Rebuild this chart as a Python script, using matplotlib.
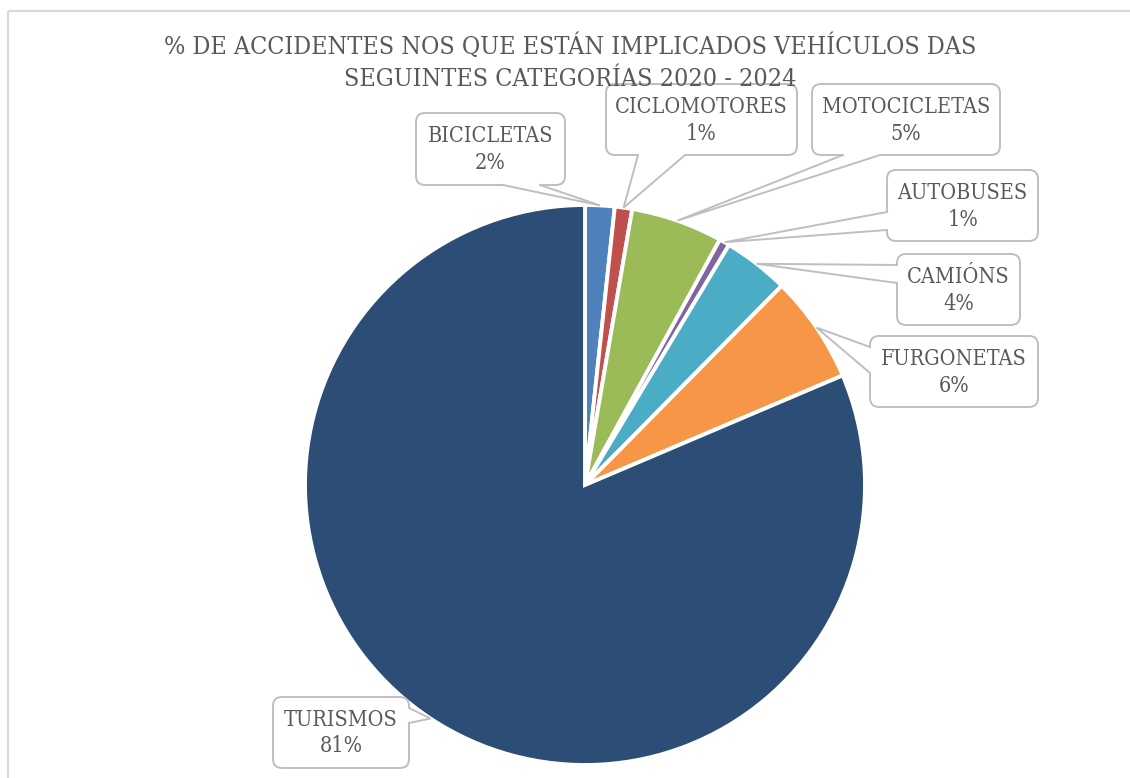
import matplotlib
matplotlib.use("Agg")
import matplotlib.pyplot as plt
import numpy as np
from matplotlib.patches import FancyBboxPatch, Polygon

# ---------------- data ----------------
categories = ["BICICLETAS", "CICLOMOTORES", "MOTOCICLETAS", "AUTOBUSES",
              "CAMIÓNS", "FURGONETAS", "TURISMOS"]
values = [1.7, 1.0, 5.3, 0.6, 3.8, 6.2, 81.4]
colors = ["#4F81BD", "#C0504D", "#9BBB59", "#8064A2", "#4BACC6", "#F79646", "#2C4D75"]
title_lines = ["% DE ACCIDENTES NOS QUE ESTÁN IMPLICADOS VEHÍCULOS DAS",
               "SEGUINTES CATEGORÍAS 2020 - 2024"]

# ---------------- layout (pixels, y down) ----------------
W, H = 1130, 778
label_layout = {
    "BICICLETAS":   dict(box=(416, 113, 149, 72), side="bottom", base=(503, 540)),
    "CICLOMOTORES": dict(box=(606, 84, 191, 71),  side="bottom", base=(638, 685)),
    "MOTOCICLETAS": dict(box=(812, 84, 188, 71),  side="bottom", base=(843, 880)),
    "AUTOBUSES":    dict(box=(887, 170, 151, 71), side="left",   base=(212, 230)),
    "CAMIÓNS":      dict(box=(897, 254, 123, 71), side="left",   base=(265, 283)),
    "FURGONETAS":   dict(box=(870, 336, 168, 71), side="left",   base=(347, 373)),
    "TURISMOS":     dict(box=(273, 697, 136, 71), side="right",  base=(708, 723)),
}
pie_center = (585, 485)
pie_radius = 280

font = dict(family="DejaVu Serif", stretch="condensed")
txt_color = "#595959"
line_color = "#BFBFBF"

fig = plt.figure(figsize=(W / 100, H / 100), dpi=100)
fig.patch.set_facecolor("white")

cx, cy = pie_center
ax = fig.add_axes([(cx - pie_radius) / W, (H - cy - pie_radius) / H,
                   2 * pie_radius / W, 2 * pie_radius / H])
wedges, _ = ax.pie(values, colors=colors, startangle=90, counterclock=False,
                   radius=1.0,
                   wedgeprops=dict(edgecolor="white", linewidth=2.8, joinstyle="miter"))
ax.set_xlim(-1, 1)
ax.set_ylim(-1, 1)
ax.set_aspect("equal", adjustable="box")
ax.axis("off")

ov = fig.add_axes([0, 0, 1, 1], zorder=5)
ov.set_xlim(0, W)
ov.set_ylim(H, 0)
ov.axis("off")
ov.patch.set_alpha(0)

ov.plot([7.5, W], [10.5, 10.5], color="#D9D9D9", lw=1.6, solid_capstyle="butt")
ov.plot([7.5, 7.5], [10.5, H], color="#D9D9D9", lw=1.6, solid_capstyle="butt")

ov.text(570, 46, title_lines[0], ha="center", va="center", fontsize=18,
        color=txt_color, **font)
ov.text(570, 79, title_lines[1], ha="center", va="center", fontsize=18,
        color=txt_color, **font)

total = sum(values)
fig.canvas.draw()
to_ov = ov.transData.inverted()
cum = 0.0
for cat, v in zip(categories, values):
    mid = (cum + v / 2) / total * 2 * np.pi
    cum += v
    tip_disp = ax.transData.transform((np.sin(mid) * 1.0, np.cos(mid) * 1.0))
    tx, ty = to_ov.transform(tip_disp)
    lay = label_layout[cat]
    x0, y0, bw, bh = lay["box"]
    box = FancyBboxPatch((x0, y0), bw, bh,
                         boxstyle="round,pad=0,rounding_size=9",
                         fc="white", ec=line_color, lw=1.4, zorder=2)
    ov.add_patch(box)
    a, b = lay["base"]
    side = lay["side"]
    if side == "bottom":
        p1, p2 = (a, y0 + bh), (b, y0 + bh)
        i1, i2 = (a, y0 + bh - 3), (b, y0 + bh - 3)
    elif side == "top":
        p1, p2 = (a, y0), (b, y0)
        i1, i2 = (a, y0 + 3), (b, y0 + 3)
    elif side == "left":
        p1, p2 = (x0, a), (x0, b)
        i1, i2 = (x0 + 3, a), (x0 + 3, b)
    else:
        p1, p2 = (x0 + bw, a), (x0 + bw, b)
        i1, i2 = (x0 + bw - 3, a), (x0 + bw - 3, b)
    ov.add_patch(Polygon([i1, p1, (tx, ty), p2, i2], closed=True,
                         fc="white", ec="none", zorder=3))
    ov.plot([p1[0], tx, p2[0]], [p1[1], ty, p2[1]], color=line_color,
            lw=1.4, zorder=4, solid_joinstyle="miter")
    pct = f"{v / total * 100:.0f}%"
    ov.text(x0 + bw / 2, y0 + bh / 2 - 13, cat, ha="center", va="center",
            fontsize=15.5, color=txt_color, zorder=6, **font)
    ov.text(x0 + bw / 2, y0 + bh / 2 + 14, pct, ha="center", va="center",
            fontsize=15.5, color=txt_color, zorder=6, **font)

fig.savefig("out.png", dpi=100, facecolor="white")
